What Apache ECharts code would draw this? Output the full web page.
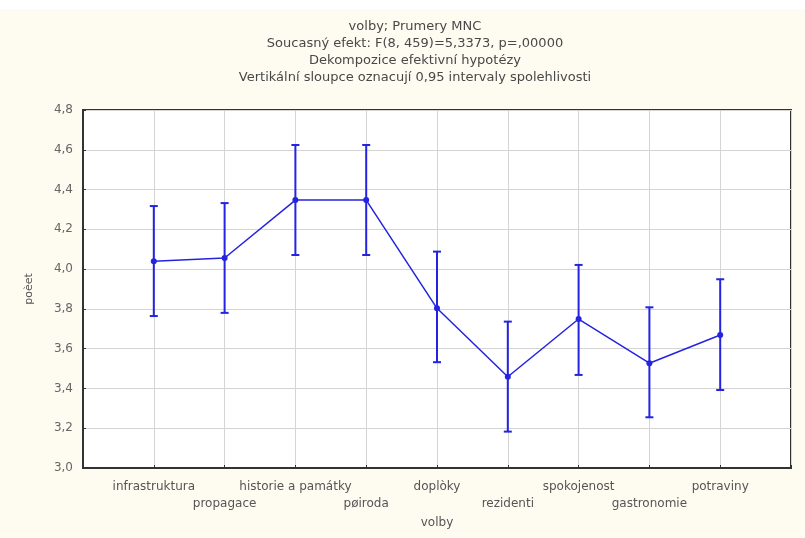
<!DOCTYPE html>
<html>
<head>
<meta charset="utf-8">
<script src="https://cdn.jsdelivr.net/npm/echarts@6/dist/echarts.min.js"></script>
<style>
html,body{margin:0;padding:0;background:#fefbf1;}
#chart{width:805px;height:538px;}
</style>
</head>
<body>
<div id="chart"></div>
<script>
const categories = ['infrastruktura','propagace','historie a památky','pøiroda','doplòky','rezidenti','spokojenost','gastronomie','potraviny'];
const means = [4.04, 4.056, 4.347, 4.347, 3.803, 3.459, 3.749, 3.527, 3.669];
const upper = [4.317, 4.332, 4.624, 4.624, 4.088, 3.736, 4.021, 3.808, 3.949];
const lower = [3.764, 3.78, 4.071, 4.071, 3.532, 3.183, 3.468, 3.255, 3.392];
const yTicks = [3.0, 3.2, 3.4, 3.6, 3.8, 4.0, 4.2, 4.4, 4.6, 4.8];
const titleLines = ['volby; Prumery MNC','Soucasný efekt: F(8, 459)=5,3373, p=,00000','Dekompozice efektivní hypotézy','Vertikální sloupce oznacují 0,95 intervaly spolehlivosti'];

const blue = '#2424e0';
const font = 'DejaVu Sans';
const chart = echarts.init(document.getElementById('chart'));
const meanData = means.map((v,i)=>[i+1, v]);
const errData = means.map((v,i)=>[i+1, lower[i], upper[i]]);

chart.setOption({
  backgroundColor: '#fefbf1',
  animation: false,
  graphic: [{type: 'rect', left: 0, top: 0, z: -10, shape: {width: 805, height: 9}, style: {fill: '#ffffff'}}],
  title: {
    text: titleLines.join('\n'),
    left: 410, top: 13, textAlign: 'center',
    textStyle: {fontFamily: font, fontSize: 13, fontWeight: 'normal', color: '#484848', lineHeight: 17}
  },
  grid: {left: 83, right: 14, top: 110, bottom: 70, show: true, backgroundColor: '#fff', borderColor: '#333', borderWidth: 2},
  xAxis: {
    type: 'value', min: 0, max: 10, interval: 1,
    name: 'volby', nameLocation: 'middle', nameGap: 48,
    nameTextStyle: {fontFamily: font, fontSize: 12, color: '#555'},
    axisLine: {show: true, lineStyle: {color: '#333', width: 2}},
    axisTick: {show: true, inside: true, length: 3, lineStyle: {color: '#333'}},
    splitLine: {show: true, lineStyle: {color: '#d4d4d4', width: 1}},
    axisLabel: {
      fontFamily: font, fontSize: 12, color: '#555', margin: 10, lineHeight: 17,
      formatter: function(v){
        const i = Math.round(v) - 1;
        if (i < 0 || i >= categories.length) return '';
        return (i % 2 === 1 ? '\n' : '') + categories[i];
      }
    }
  },
  yAxis: {
    type: 'value', min: 3.0, max: 4.8, interval: 0.2,
    name: 'poèet', nameLocation: 'middle', nameGap: 48, nameRotate: 90,
    nameTextStyle: {fontFamily: font, fontSize: 11, color: '#555'},
    axisLine: {show: true, lineStyle: {color: '#333', width: 2}},
    axisTick: {show: true, inside: true, length: 3, lineStyle: {color: '#333'}},
    splitLine: {show: true, lineStyle: {color: '#d4d4d4', width: 1}},
    axisLabel: {
      fontFamily: font, fontSize: 12, color: '#666', margin: 10,
      formatter: function(v){ return v.toFixed(1).replace('.', ','); }
    }
  },
  series: [
    {
      type: 'custom',
      data: errData,
      z: 3,
      renderItem: function(params, api){
        const x = api.value(0);
        const lo = api.coord([x, api.value(1)]);
        const hi = api.coord([x, api.value(2)]);
        const w = 4;
        const st = {stroke: blue, lineWidth: 2};
        return {type: 'group', children: [
          {type: 'line', shape: {x1: lo[0], y1: lo[1], x2: hi[0], y2: hi[1]}, style: st},
          {type: 'line', shape: {x1: lo[0]-w, y1: lo[1], x2: lo[0]+w, y2: lo[1]}, style: st},
          {type: 'line', shape: {x1: hi[0]-w, y1: hi[1], x2: hi[0]+w, y2: hi[1]}, style: st}
        ]};
      }
    },
    {
      type: 'line', data: meanData, z: 4,
      symbol: 'circle', symbolSize: 6,
      lineStyle: {color: blue, width: 1.5},
      itemStyle: {color: blue}
    }
  ]
});
</script>
</body>
</html>
